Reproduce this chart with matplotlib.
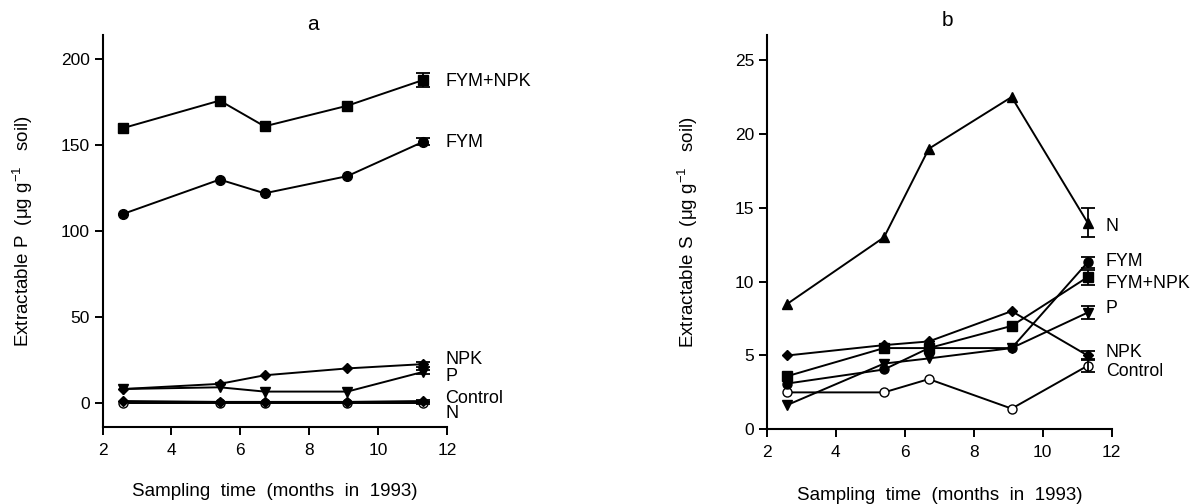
import matplotlib
matplotlib.use("Agg")
import matplotlib.pyplot as plt

plt.rcParams['font.family'] = ['Liberation Sans', 'DejaVu Sans']
plt.rcParams['mathtext.fontset'] = 'custom'
plt.rcParams['mathtext.rm'] = 'Liberation Sans'
plt.rcParams['mathtext.it'] = 'Liberation Sans'

# ---- data ----
months = [2.6, 5.4, 6.7, 9.1, 11.3]

# panel a: extractable P
a_fymnpk = [160, 176, 161, 173, 188]
a_fym = [110, 130, 122, 132, 152]
a_npk = [8, 11, 16, 20, 22.5]
a_p = [8, 9, 6.5, 6.5, 18]
a_control = [0, 0, 0, 0, 0]
a_n = [1, 0.5, 0.5, 0.5, 1]
a_err = {'FYM+NPK': 4, 'FYM': 2, 'NPK': 1.5, 'P': 1.3, 'Control': 0.5, 'N': 0.5}

# panel b: extractable S
b_n = [8.5, 13.0, 19.0, 22.5, 14.0]
b_fym = [3.1, 4.05, 5.5, 5.5, 11.3]
b_fymnpk = [3.6, 5.5, 5.5, 7.0, 10.3]
b_p = [1.65, 4.45, 4.8, 5.5, 7.9]
b_npk = [5.0, 5.7, 5.95, 8.0, 5.0]
b_control = [2.5, 2.5, 3.4, 1.4, 4.3]
b_err = {'N': 1.0, 'FYM': 0.4, 'FYM+NPK': 0.5, 'P': 0.45, 'NPK': 0.3, 'Control': 0.45}

xticks = [2, 4, 6, 8, 10, 12]
a_yticks = [0, 50, 100, 150, 200]
b_yticks = [0, 5, 10, 15, 20, 25]

a_labels = [('FYM+NPK', 187), ('FYM', 151.3), ('NPK', 24.9), ('P', 15.0), ('Control', 2.7), ('N', -6.0)]
b_labels = [('N', 13.7), ('FYM', 11.33), ('FYM+NPK', 9.9), ('P', 8.2), ('NPK', 5.23), ('Control', 3.9)]

fig = plt.figure(figsize=(11.93, 5.04), dpi=100)

axA = fig.add_axes([102.5/1193, (504-427.3)/504, 344.8/1193, 392.3/504])
axB = fig.add_axes([766.7/1193, (504-429.3)/504, 345.0/1193, 394.3/504])

LW = 1.4
def series(ax, y, err, marker, ms, mfc='black'):
    ax.plot(months, y, color='black', lw=LW, marker=marker, ms=ms,
            mfc=mfc, mec='black', mew=1.0, zorder=3, clip_on=False)
    ax.errorbar([months[-1]], [y[-1]], yerr=[err], fmt='none', ecolor='black',
                elinewidth=1.3, capsize=5, capthick=1.3, zorder=4, clip_on=False)

# panel a
series(axA, a_fymnpk, a_err['FYM+NPK'], 's', 7.5)
series(axA, a_fym, a_err['FYM'], 'o', 7)
series(axA, a_npk, a_err['NPK'], 'D', 5.5)
series(axA, a_p, a_err['P'], 'v', 6.5)
series(axA, a_control, a_err['Control'], 'o', 6.5, mfc='white')
series(axA, a_n, a_err['N'], 'D', 5.5)

# panel b
series(axB, b_control, b_err['Control'], 'o', 6.5, mfc='white')
series(axB, b_npk, b_err['NPK'], 'D', 5.5)
series(axB, b_p, b_err['P'], 'v', 6.5)
series(axB, b_fym, b_err['FYM'], 'o', 6.5)
series(axB, b_fymnpk, b_err['FYM+NPK'], 's', 6.5)
series(axB, b_n, b_err['N'], '^', 6.5)

for ax, yt, ylim in [(axA, a_yticks, (-14.3, 214.2)), (axB, b_yticks, (0, 26.7))]:
    ax.set_xlim(2, 12)
    ax.set_ylim(*ylim)
    ax.set_xticks(xticks)
    ax.set_yticks(yt)
    for s in ['top', 'right']:
        ax.spines[s].set_visible(False)
    for s in ['left', 'bottom']:
        ax.spines[s].set_linewidth(1.5)
    ax.tick_params(direction='out', length=6, width=1.4, labelsize=12.5, color='black')
    ax.tick_params(axis='x', pad=5)
    ax.tick_params(axis='y', pad=3)
    ax.patch.set_alpha(0)

for name, yv in a_labels:
    axA.text(11.95, yv, name, ha='left', va='center', fontsize=13, clip_on=False)
for name, yv in b_labels:
    axB.text(11.83, yv, name, ha='left', va='center', fontsize=12.8, clip_on=False)

fig.text(313/1193, 1-24/504, 'a', ha='center', va='center', fontsize=15)
fig.text(947/1193, 1-20.5/504, 'b', ha='center', va='center', fontsize=15)

fig.text(275/1193, 1-492/504, 'Sampling  time  (months  in  1993)', ha='center', va='center', fontsize=13.5)
fig.text(940/1193, 1-495/504, 'Sampling  time  (months  in  1993)', ha='center', va='center', fontsize=13.5)

fig.text(23/1193, 1-231/504, r'Extractable P  ($\mu$g g$^{-1}$   soil)', ha='center', va='center',
         rotation=90, fontsize=13.5)
fig.text(688/1193, 1-232.5/504, r'Extractable S  ($\mu$g g$^{-1}$   soil)', ha='center', va='center',
         rotation=90, fontsize=13.5)

fig.savefig('out.png', dpi=100)
